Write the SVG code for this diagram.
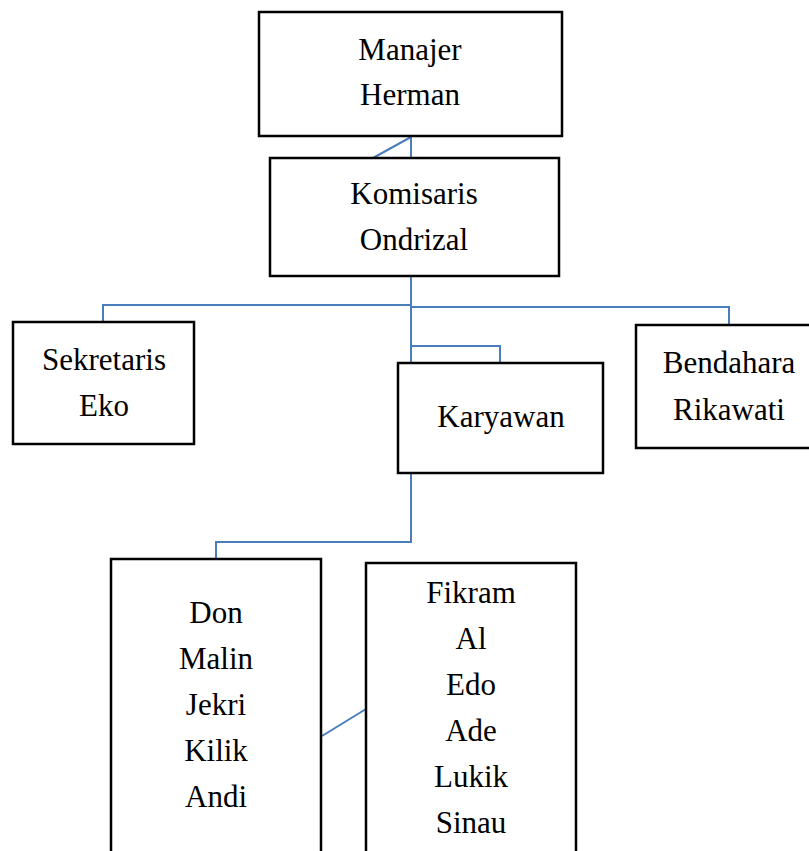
<svg xmlns="http://www.w3.org/2000/svg" width="809" height="851" viewBox="0 0 809 851">
<style>
.box{fill:#fff;stroke:#000;stroke-width:2.5}
.t{font-family:'Liberation Serif',serif;font-size:31px;fill:#000;text-anchor:middle}
.c{fill:none;stroke:#4a7ebb;stroke-width:2}
</style>
<rect width="809" height="851" fill="#fff"/>
<g id="connectors">
<path class="c" d="M411 136V158M411 137L373 158"/>
<path class="c" d="M411 276V363M411 305H103V322M411 307H729V325M411 346H500V363"/>
<path class="c" d="M411 473V542H216V559"/>
<path class="c" d="M322 736L366 709"/>
</g>
<g id="manajer">
<rect class="box" x="259" y="12" width="303" height="124"/>
<text class="t" x="410" y="60">Manajer</text>
<text class="t" x="410" y="105">Herman</text>
</g>
<g id="komisaris">
<rect class="box" x="270" y="158" width="289" height="118"/>
<text class="t" x="414" y="204">Komisaris</text>
<text class="t" x="414" y="250">Ondrizal</text>
</g>
<g id="sekretaris">
<rect class="box" x="13" y="322" width="181" height="122"/>
<text class="t" x="104" y="370">Sekretaris</text>
<text class="t" x="104" y="416">Eko</text>
</g>
<g id="karyawan">
<rect class="box" x="398" y="363" width="205" height="110"/>
<text class="t" x="501" y="427">Karyawan</text>
</g>
<g id="bendahara">
<rect class="box" x="636" y="325" width="190" height="123"/>
<text class="t" x="729" y="373">Bendahara</text>
<text class="t" x="729" y="420">Rikawati</text>
</g>
<g id="group1">
<rect class="box" x="111" y="559" width="210" height="310"/>
<text class="t" x="216" y="623">Don</text>
<text class="t" x="216" y="669">Malin</text>
<text class="t" x="216" y="715">Jekri</text>
<text class="t" x="216" y="761">Kilik</text>
<text class="t" x="216" y="807">Andi</text>
</g>
<g id="group2">
<rect class="box" x="366" y="563" width="210" height="310"/>
<text class="t" x="471" y="603">Fikram</text>
<text class="t" x="471" y="649">Al</text>
<text class="t" x="471" y="695">Edo</text>
<text class="t" x="471" y="741">Ade</text>
<text class="t" x="471" y="787">Lukik</text>
<text class="t" x="471" y="833">Sinau</text>
</g>
</svg>
